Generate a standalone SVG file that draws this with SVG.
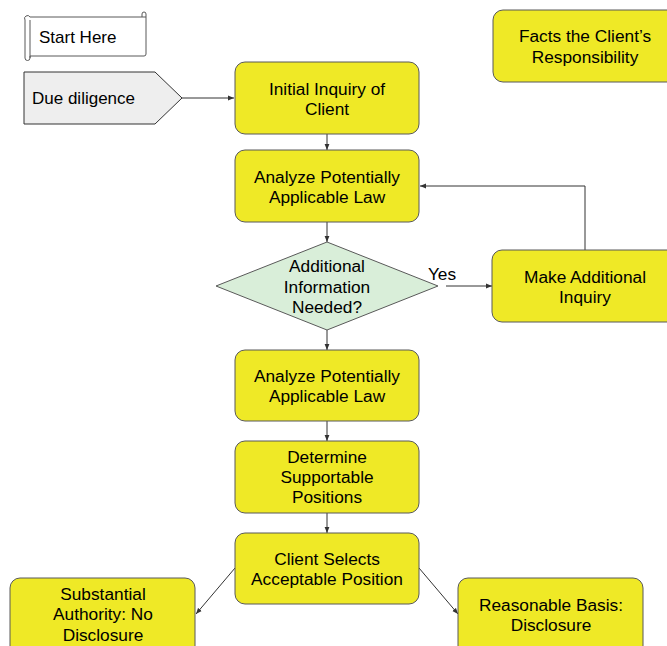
<svg xmlns="http://www.w3.org/2000/svg" width="667" height="646" viewBox="0 0 667 646">
<defs>
<style>
.box{fill:#efe926;stroke:#595959;stroke-width:1}
.t{font-family:"Liberation Sans",Arial,sans-serif;font-size:17.3px;fill:#000;text-anchor:middle}
.l{font-family:"Liberation Sans",Arial,sans-serif;font-size:17px;fill:#000}
.c{fill:none;stroke:#333;stroke-width:1}
</style>
<marker id="ah" viewBox="0 0 10 10" refX="10" refY="5" markerWidth="6" markerHeight="6" orient="auto" markerUnits="userSpaceOnUse">
<path d="M0,1 L10,5 L0,9 z" fill="#333"/>
</marker>
</defs>
<rect width="667" height="646" fill="#fff"/>
<g id="connectors">
<path class="c" d="M182,98 H234" marker-end="url(#ah)"/>
<path class="c" d="M327,134 V150" marker-end="url(#ah)"/>
<path class="c" d="M327,222 V242" marker-end="url(#ah)"/>
<path class="c" d="M446,286 H492" marker-end="url(#ah)"/>
<path class="c" d="M585,250 V186 H420" marker-end="url(#ah)"/>
<path class="c" d="M327,330 V350" marker-end="url(#ah)"/>
<path class="c" d="M327,421 V441" marker-end="url(#ah)"/>
<path class="c" d="M327,513 V533" marker-end="url(#ah)"/>
<path class="c" d="M235,568 L196,614" marker-end="url(#ah)"/>
<path class="c" d="M419,568 L458,614" marker-end="url(#ah)"/>
<text class="t" x="442" y="280">Yes</text>
</g>
<g id="start">
<path d="M30,17 H142 V14 a2,2 0 0 1 4,0 V54 a2,2 0 0 1 -2,2 H30 V58 a2.5,2.5 0 0 1 -5,0 V20 a2.5,2.5 0 0 1 5,-3 z" fill="#fff" stroke="#595959"/>
<path d="M142,17 h4 M30,20 v38" fill="none" stroke="#595959"/>
<text class="l" x="39" y="43">Start Here</text>
</g>
<g id="due">
<path d="M24,72 H155 L182,98 L155,124 H24 z" fill="#eeeeee" stroke="#333"/>
<text class="l" x="32" y="104">Due diligence</text>
</g>
<g id="facts">
<rect class="box" x="493" y="10" width="185" height="72" rx="10"/>
<text class="t" x="585" y="42">Facts the Client’s</text>
<text class="t" x="585" y="63">Responsibility</text>
</g>
<g id="initial">
<rect class="box" x="235" y="62" width="184" height="72" rx="10"/>
<text class="t" x="327" y="95">Initial Inquiry of</text>
<text class="t" x="327" y="115">Client</text>
</g>
<g id="analyze1">
<rect class="box" x="235" y="150" width="184" height="72" rx="10"/>
<text class="t" x="327" y="183">Analyze Potentially</text>
<text class="t" x="327" y="203">Applicable Law</text>
</g>
<g id="decision">
<path d="M327,242 L438,286 L327,330 L216,286 z" fill="#d9eed9" stroke="#595959"/>
<text class="t" x="327" y="272">Additional</text>
<text class="t" x="327" y="293">Information</text>
<text class="t" x="327" y="313">Needed?</text>
</g>
<g id="inquiry">
<rect class="box" x="492" y="250" width="185" height="72" rx="10"/>
<text class="t" x="585" y="283">Make Additional</text>
<text class="t" x="585" y="303">Inquiry</text>
</g>
<g id="analyze2">
<rect class="box" x="235" y="350" width="184" height="71" rx="10"/>
<text class="t" x="327" y="382">Analyze Potentially</text>
<text class="t" x="327" y="402">Applicable Law</text>
</g>
<g id="determine">
<rect class="box" x="235" y="441" width="184" height="72" rx="10"/>
<text class="t" x="327" y="463">Determine</text>
<text class="t" x="327" y="483">Supportable</text>
<text class="t" x="327" y="503">Positions</text>
</g>
<g id="client">
<rect class="box" x="235" y="533" width="184" height="71" rx="10"/>
<text class="t" x="327" y="565">Client Selects</text>
<text class="t" x="327" y="585">Acceptable Position</text>
</g>
<g id="substantial">
<rect class="box" x="10" y="578" width="185" height="80" rx="10"/>
<text class="t" x="103" y="600">Substantial</text>
<text class="t" x="103" y="620">Authority: No</text>
<text class="t" x="103" y="641">Disclosure</text>
</g>
<g id="reasonable">
<rect class="box" x="458" y="578" width="185" height="80" rx="10"/>
<text class="t" x="551" y="611">Reasonable Basis:</text>
<text class="t" x="551" y="631">Disclosure</text>
</g>
</svg>
